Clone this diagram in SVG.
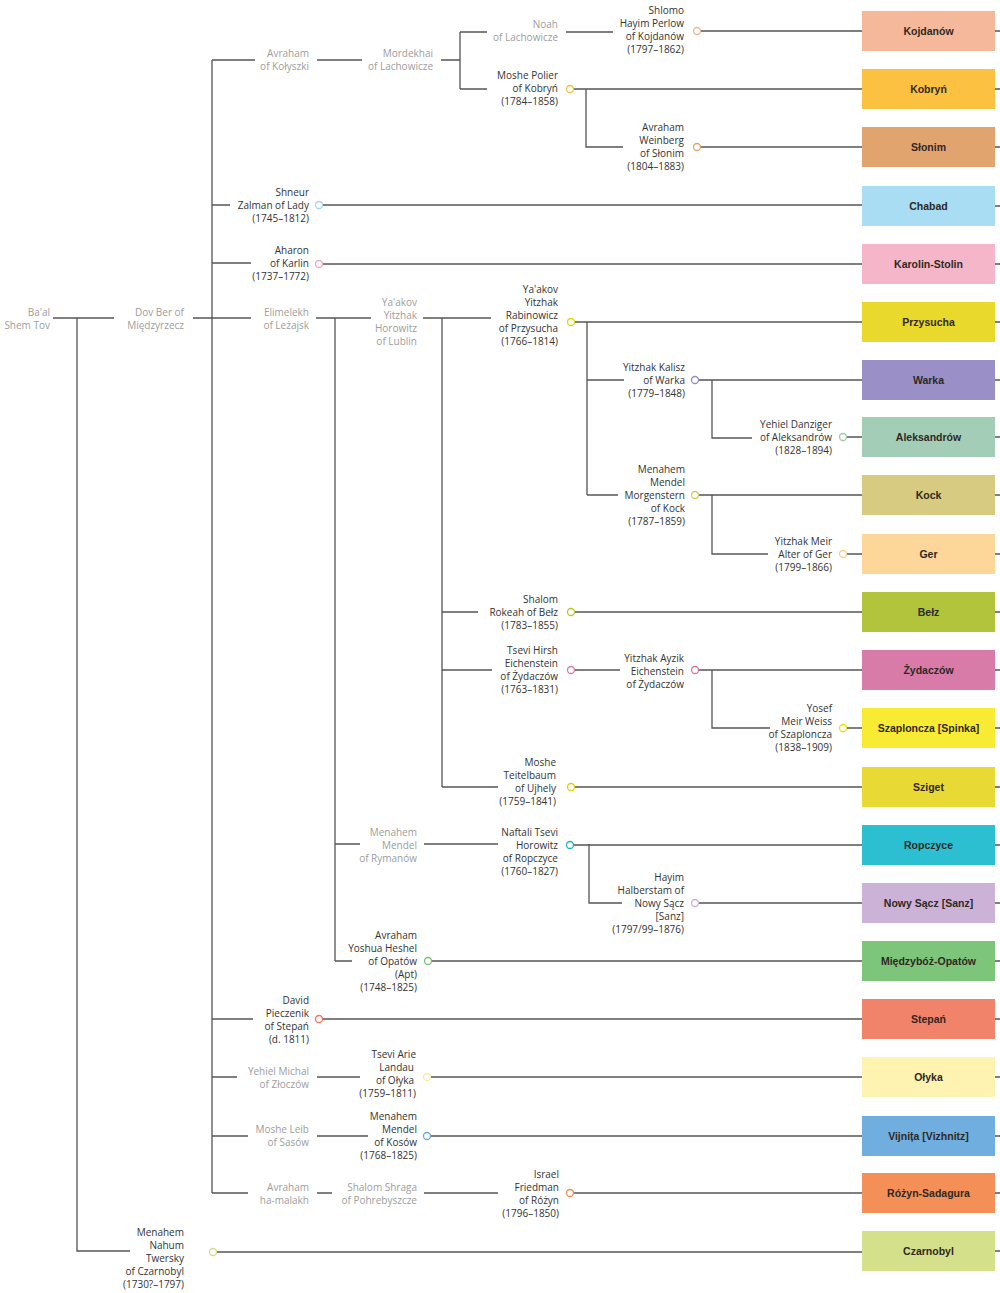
<svg xmlns="http://www.w3.org/2000/svg" width="1000" height="1293" viewBox="0 0 1000 1293">
<style>
.t{font-family:"Open Sans","Liberation Sans",sans-serif;font-size:10px;fill:#333;text-anchor:end}
.g{fill:#9d9d9d}
.c{fill:#fff;stroke-width:1.3}
.ln{stroke:#555;stroke-width:1.3;fill:none}
.bx{font-family:"Liberation Sans",Arial,sans-serif;font-size:10.5px;font-weight:bold;fill:#2e2823;text-anchor:middle}
</style>
<rect width="1000" height="1293" fill="#fff"/>
<g id="connectors" class="ln">
<path d="M53 318H114M77 318V1251H130"/>
<path d="M193 318H251M212 60V1193"/>
<path d="M212 60H255M317 60H362M441 60H460M460 32V89M460 32H487M460 89H487M566 32H613"/>
<path d="M586 89V147H623"/>
<path d="M212 205H230M212 263H251"/>
<path d="M316 318H371M335 318V961M423 318H491M442 318V787"/>
<path d="M587 322V495M587 380H624M712 380V438H752M587 495H618M712 495V554H768"/>
<path d="M442 612H478M442 670H492M575 670H620M712 670V728H770M442 787H498"/>
<path d="M335 844H360M424 844H498M589 844V903H622M335 961H352"/>
<path d="M212 1019H253M212 1077H237M317 1077H360M212 1136H248M317 1136H368M212 1193H248M317 1193H332M424 1193H498"/>
<path d="M700.5 31H862M573.5 89H862M700.5 147H862M322.5 205H862M322.5 264H862M574.5 322H862M698.5 380H862M846.5 437H862M698.5 495H862M846.5 554H862M574.5 612H862M698.5 670H862M846.5 728H862M574.5 787H862M573.5 845H862M698.5 903H862M431.5 961H862M322.5 1019H862M430.5 1077H862M430.5 1136H862M573.5 1193H862M216.5 1252H862"/>
<path d="M995 31H1000M995 89H1000M995 147H1000M995 206H1000M995 264H1000M995 322H1000M995 380H1000M995 437H1000M995 495H1000M995 554H1000M995 612H1000M995 670H1000M995 728H1000M995 787H1000M995 845H1000M995 903H1000M995 961H1000M995 1019H1000M995 1077H1000M995 1136H1000M995 1193H1000M995 1251H1000"/>
</g>
<g id="baal"><text class="t g" y="315.5"><tspan x="50">Ba'al</tspan><tspan x="50" dy="13">Shem Tov</tspan></text></g>
<g id="dovber"><text class="t g" y="315.5"><tspan x="184">Dov Ber of</tspan><tspan x="184" dy="13">Międzyrzecz</tspan></text></g>
<g id="kolyszki"><text class="t g" y="56.5"><tspan x="309">Avraham</tspan><tspan x="309" dy="13">of Kołyszki</tspan></text></g>
<g id="mordekhai"><text class="t g" y="56.5"><tspan x="433">Mordekhai</tspan><tspan x="433" dy="13">of Lachowicze</tspan></text></g>
<g id="noah"><text class="t g" y="27.5"><tspan x="558">Noah</tspan><tspan x="558" dy="13">of Lachowicze</tspan></text></g>
<g id="shlomo"><text class="t" y="13.5"><tspan x="684">Shlomo</tspan><tspan x="684" dy="13">Hayim Perlow</tspan><tspan x="684" dy="13">of Kojdanów</tspan><tspan x="684" dy="13">(1797–1862)</tspan></text><circle class="c" cx="697" cy="31" r="3.5" stroke="#f0b48e"/></g>
<g id="polier"><text class="t" y="78.5"><tspan x="558">Moshe Polier</tspan><tspan x="558" dy="13">of Kobryń</tspan><tspan x="558" dy="13">(1784–1858)</tspan></text><circle class="c" cx="570" cy="89" r="3.5" stroke="#f2c03a"/></g>
<g id="weinberg"><text class="t" y="130.5"><tspan x="684">Avraham</tspan><tspan x="684" dy="13">Weinberg</tspan><tspan x="684" dy="13">of Słonim</tspan><tspan x="684" dy="13">(1804–1883)</tspan></text><circle class="c" cx="697" cy="147" r="3.5" stroke="#dfa466"/></g>
<g id="shneur"><text class="t" y="195.5"><tspan x="309">Shneur</tspan><tspan x="309" dy="13">Zalman of Lady</tspan><tspan x="309" dy="13">(1745–1812)</tspan></text><circle class="c" cx="319" cy="205" r="3.5" stroke="#9fd5ef"/></g>
<g id="aharon"><text class="t" y="253.5"><tspan x="309">Aharon</tspan><tspan x="309" dy="13">of Karlin</tspan><tspan x="309" dy="13">(1737–1772)</tspan></text><circle class="c" cx="319" cy="264" r="3.5" stroke="#eeaabf"/></g>
<g id="elimelekh"><text class="t g" y="315.5"><tspan x="309">Elimelekh</tspan><tspan x="309" dy="13">of Leżajsk</tspan></text></g>
<g id="lublin"><text class="t g" y="305.5"><tspan x="417">Ya'akov</tspan><tspan x="417" dy="13">Yitzhak</tspan><tspan x="417" dy="13">Horowitz</tspan><tspan x="417" dy="13">of Lublin</tspan></text></g>
<g id="przysucha"><text class="t" y="292.5"><tspan x="558">Ya'akov</tspan><tspan x="558" dy="13">Yitzhak</tspan><tspan x="558" dy="13">Rabinowicz</tspan><tspan x="558" dy="13">of Przysucha</tspan><tspan x="558" dy="13">(1766–1814)</tspan></text><circle class="c" cx="571" cy="322" r="3.5" stroke="#e3d300"/></g>
<g id="warka"><text class="t" y="370.5"><tspan x="685">Yitzhak Kalisz</tspan><tspan x="685" dy="13">of Warka</tspan><tspan x="685" dy="13">(1779–1848)</tspan></text><circle class="c" cx="695" cy="380" r="3.5" stroke="#8f8bcc"/></g>
<g id="aleksandrow"><text class="t" y="427.5"><tspan x="832">Yehiel Danziger</tspan><tspan x="832" dy="13">of Aleksandrów</tspan><tspan x="832" dy="13">(1828–1894)</tspan></text><circle class="c" cx="843" cy="437" r="3.5" stroke="#9ccaa8"/></g>
<g id="kock"><text class="t" y="472.5"><tspan x="685">Menahem</tspan><tspan x="685" dy="13">Mendel</tspan><tspan x="685" dy="13">Morgenstern</tspan><tspan x="685" dy="13">of Kock</tspan><tspan x="685" dy="13">(1787–1859)</tspan></text><circle class="c" cx="695" cy="495" r="3.5" stroke="#d2c65e"/></g>
<g id="ger"><text class="t" y="544.5"><tspan x="832">Yitzhak Meir</tspan><tspan x="832" dy="13">Alter of Ger</tspan><tspan x="832" dy="13">(1799–1866)</tspan></text><circle class="c" cx="843" cy="554" r="3.5" stroke="#f8d08c"/></g>
<g id="belz"><text class="t" y="602.5"><tspan x="558">Shalom</tspan><tspan x="558" dy="13">Rokeah of Bełz</tspan><tspan x="558" dy="13">(1783–1855)</tspan></text><circle class="c" cx="571" cy="612" r="3.5" stroke="#b5c82a"/></g>
<g id="tsevihirsh"><text class="t" y="653.5"><tspan x="558">Tsevi Hirsh</tspan><tspan x="558" dy="13">Eichenstein</tspan><tspan x="558" dy="13">of Żydaczów</tspan><tspan x="558" dy="13">(1763–1831)</tspan></text><circle class="c" cx="571" cy="670" r="3.5" stroke="#d579a4"/></g>
<g id="ayzik"><text class="t" y="661.5"><tspan x="684">Yitzhak Ayzik</tspan><tspan x="684" dy="13">Eichenstein</tspan><tspan x="684" dy="13">of Żydaczów</tspan></text><circle class="c" cx="695" cy="670" r="3.5" stroke="#d579a4"/></g>
<g id="weiss"><text class="t" y="711.5"><tspan x="832">Yosef</tspan><tspan x="832" dy="13">Meir Weiss</tspan><tspan x="832" dy="13">of Szaploncza</tspan><tspan x="832" dy="13">(1838–1909)</tspan></text><circle class="c" cx="843" cy="728" r="3.5" stroke="#eee200"/></g>
<g id="teitelbaum"><text class="t" y="765.5"><tspan x="556">Moshe</tspan><tspan x="556" dy="13">Teitelbaum</tspan><tspan x="556" dy="13">of Ujhely</tspan><tspan x="556" dy="13">(1759–1841)</tspan></text><circle class="c" cx="571" cy="787" r="3.5" stroke="#ddd100"/></g>
<g id="rymanow"><text class="t g" y="835.5"><tspan x="417">Menahem</tspan><tspan x="417" dy="13">Mendel</tspan><tspan x="417" dy="13">of Rymanów</tspan></text></g>
<g id="naftali"><text class="t" y="835.5"><tspan x="558">Naftali Tsevi</tspan><tspan x="558" dy="13">Horowitz</tspan><tspan x="558" dy="13">of Ropczyce</tspan><tspan x="558" dy="13">(1760–1827)</tspan></text><circle class="c" cx="570" cy="845" r="3.5" stroke="#1fb2c3"/></g>
<g id="halberstam"><text class="t" y="880.5"><tspan x="684">Hayim</tspan><tspan x="684" dy="13">Halberstam of</tspan><tspan x="684" dy="13">Nowy Sącz</tspan><tspan x="684" dy="13">[Sanz]</tspan><tspan x="684" dy="13">(1797/99–1876)</tspan></text><circle class="c" cx="695" cy="903" r="3.5" stroke="#c7b0d6"/></g>
<g id="heshel"><text class="t" y="938.5"><tspan x="417">Avraham</tspan><tspan x="417" dy="13">Yoshua Heshel</tspan><tspan x="417" dy="13">of Opatów</tspan><tspan x="417" dy="13">(Apt)</tspan><tspan x="417" dy="13">(1748–1825)</tspan></text><circle class="c" cx="428" cy="961" r="3.5" stroke="#78bf74"/></g>
<g id="pieczenik"><text class="t" y="1003.5"><tspan x="309">David</tspan><tspan x="309" dy="13">Pieczenik</tspan><tspan x="309" dy="13">of Stepań</tspan><tspan x="309" dy="13">(d. 1811)</tspan></text><circle class="c" cx="319" cy="1019" r="3.5" stroke="#ee7560"/></g>
<g id="zloczow"><text class="t g" y="1074.5"><tspan x="309">Yehiel Michal</tspan><tspan x="309" dy="13">of Złoczów</tspan></text></g>
<g id="landau"><text class="t" y="1057.5"><tspan x="416">Tsevi Arie</tspan><tspan x="414" dy="13">Landau</tspan><tspan x="414" dy="13">of Ołyka</tspan><tspan x="416" dy="13">(1759–1811)</tspan></text><circle class="c" cx="427" cy="1077" r="3.5" stroke="#f6eea0"/></g>
<g id="sasow"><text class="t g" y="1132.5"><tspan x="309">Moshe Leib</tspan><tspan x="309" dy="13">of Sasów</tspan></text></g>
<g id="kosow"><text class="t" y="1119.5"><tspan x="417">Menahem</tspan><tspan x="417" dy="13">Mendel</tspan><tspan x="417" dy="13">of Kosów</tspan><tspan x="417" dy="13">(1768–1825)</tspan></text><circle class="c" cx="427" cy="1136" r="3.5" stroke="#6aa6db"/></g>
<g id="malakh"><text class="t g" y="1190.5"><tspan x="309">Avraham</tspan><tspan x="309" dy="13">ha-malakh</tspan></text></g>
<g id="shraga"><text class="t g" y="1190.5"><tspan x="417">Shalom Shraga</tspan><tspan x="417" dy="13">of Pohrebyszcze</tspan></text></g>
<g id="friedman"><text class="t" y="1177.5"><tspan x="559">Israel</tspan><tspan x="559" dy="13">Friedman</tspan><tspan x="559" dy="13">of Różyn</tspan><tspan x="559" dy="13">(1796–1850)</tspan></text><circle class="c" cx="570" cy="1193" r="3.5" stroke="#ef8c55"/></g>
<g id="twersky"><text class="t" y="1235.5"><tspan x="184">Menahem</tspan><tspan x="184" dy="13">Nahum</tspan><tspan x="184" dy="13">Twersky</tspan><tspan x="184" dy="13">of Czarnobyl</tspan><tspan x="184" dy="13">(1730?–1797)</tspan></text><circle class="c" cx="213" cy="1252" r="3.5" stroke="#d3dc88"/></g>
<g id="box-kojdanow"><rect x="862" y="11" width="133" height="40" fill="#f6b89a"/><text class="bx" x="928.5" y="35">Kojdanów</text></g>
<g id="box-kobryn"><rect x="862" y="69" width="133" height="40" fill="#fdc142"/><text class="bx" x="928.5" y="93">Kobryń</text></g>
<g id="box-slonim"><rect x="862" y="127" width="133" height="40" fill="#e2a46f"/><text class="bx" x="928.5" y="151">Słonim</text></g>
<g id="box-chabad"><rect x="862" y="186" width="133" height="40" fill="#a9ddf3"/><text class="bx" x="928.5" y="210">Chabad</text></g>
<g id="box-karolin"><rect x="862" y="244" width="133" height="40" fill="#f5b6c9"/><text class="bx" x="928.5" y="268">Karolin-Stolin</text></g>
<g id="box-przysucha"><rect x="862" y="302" width="133" height="40" fill="#e9d92d"/><text class="bx" x="928.5" y="326">Przysucha</text></g>
<g id="box-warka"><rect x="862" y="360" width="133" height="40" fill="#9a8fc6"/><text class="bx" x="928.5" y="384">Warka</text></g>
<g id="box-aleksandrow"><rect x="862" y="417" width="133" height="40" fill="#a3cdb6"/><text class="bx" x="928.5" y="441">Aleksandrów</text></g>
<g id="box-kock"><rect x="862" y="475" width="133" height="40" fill="#d6cb80"/><text class="bx" x="928.5" y="499">Kock</text></g>
<g id="box-ger"><rect x="862" y="534" width="133" height="40" fill="#fdd699"/><text class="bx" x="928.5" y="558">Ger</text></g>
<g id="box-belz"><rect x="862" y="592" width="133" height="40" fill="#b1c43b"/><text class="bx" x="928.5" y="616">Bełz</text></g>
<g id="box-zydaczow"><rect x="862" y="650" width="133" height="40" fill="#d87ba9"/><text class="bx" x="928.5" y="674">Żydaczów</text></g>
<g id="box-szaploncza"><rect x="862" y="708" width="133" height="40" fill="#f9eb33"/><text class="bx" x="928.5" y="732">Szaploncza [Spinka]</text></g>
<g id="box-sziget"><rect x="862" y="767" width="133" height="40" fill="#e9d935"/><text class="bx" x="928.5" y="791">Sziget</text></g>
<g id="box-ropczyce"><rect x="862" y="825" width="133" height="40" fill="#2cbfd1"/><text class="bx" x="928.5" y="849">Ropczyce</text></g>
<g id="box-nowysacz"><rect x="862" y="883" width="133" height="40" fill="#cbb2d6"/><text class="bx" x="928.5" y="907">Nowy Sącz [Sanz]</text></g>
<g id="box-opatow"><rect x="862" y="941" width="133" height="40" fill="#7dc57a"/><text class="bx" x="928.5" y="965">Międzybóż-Opatów</text></g>
<g id="box-stepan"><rect x="862" y="999" width="133" height="40" fill="#f0836a"/><text class="bx" x="928.5" y="1023">Stepań</text></g>
<g id="box-olyka"><rect x="862" y="1057" width="133" height="40" fill="#fef3b0"/><text class="bx" x="928.5" y="1081">Ołyka</text></g>
<g id="box-vijnita"><rect x="862" y="1116" width="133" height="40" fill="#6faedf"/><text class="bx" x="928.5" y="1140">Vijnița [Vizhnitz]</text></g>
<g id="box-rozyn"><rect x="862" y="1173" width="133" height="40" fill="#f38f57"/><text class="bx" x="928.5" y="1197">Różyn-Sadagura</text></g>
<g id="box-czarnobyl"><rect x="862" y="1231" width="133" height="40" fill="#d5e08b"/><text class="bx" x="928.5" y="1255">Czarnobyl</text></g>
</svg>
